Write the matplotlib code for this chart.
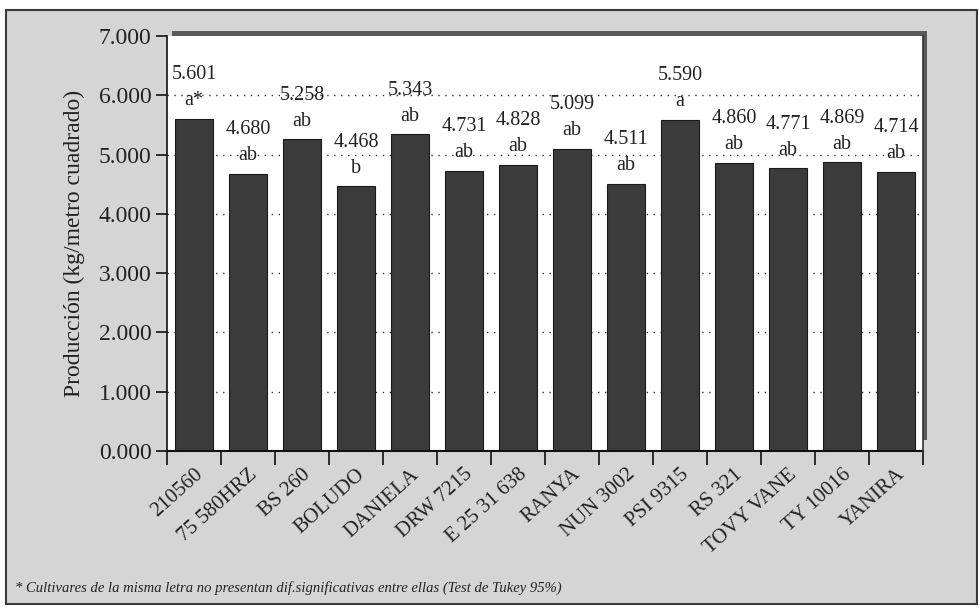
import matplotlib
matplotlib.use("Agg")
import matplotlib.pyplot as plt
from matplotlib.patches import Rectangle
import numpy as np

cultivares = ["210560", "75 580HRZ", "BS 260", "BOLUDO", "DANIELA", "DRW 7215",
              "E 25 31 638", "RANYA", "NUN 3002", "PSI 9315", "RS 321",
              "TOVY VANE", "TY 10016", "YANIRA"]
produccion = [5.601, 4.680, 5.258, 4.468, 5.343, 4.731, 4.828, 5.099, 4.511,
              5.590, 4.860, 4.771, 4.869, 4.714]
letras = ["a*", "ab", "ab", "b", "ab", "ab", "ab", "ab", "ab", "a", "ab", "ab", "ab", "ab"]
yticks = [0, 1, 2, 3, 4, 5, 6, 7]
ytick_labels = ["0.000", "1.000", "2.000", "3.000", "4.000", "5.000", "6.000", "7.000"]

plt.rcParams['font.family'] = ['Liberation Serif', 'DejaVu Serif']

W, H = 980, 608
fig = plt.figure(figsize=(W / 100, H / 100), dpi=100, facecolor="white")

def px_rect(x0, y0, x1, y1, **kw):
    # pixel coords measured from top-left
    return Rectangle((x0 / W, 1 - y1 / H), (x1 - x0) / W, (y1 - y0) / H,
                     transform=fig.transFigure, **kw)

# outer panel
fig.patches.append(px_rect(6, 10, 977, 604, facecolor="#d5d5d5", edgecolor="#3a3a3a",
                           linewidth=1.5, zorder=0))
# shadow of the plot wall
fig.patches.append(px_rect(172, 31, 927, 37, facecolor="#5a5a5a", edgecolor="none", zorder=1))
fig.patches.append(px_rect(920, 31, 927, 440, facecolor="#5a5a5a", edgecolor="none", zorder=1))

ax = fig.add_axes([167 / W, 1 - 451 / H, (923 - 167) / W, (451 - 36) / H])
ax.set_facecolor("white")
ax.set_zorder(2)

x = np.arange(len(cultivares))
ax.set_xlim(-0.5, len(cultivares) - 0.5)
ax.set_ylim(0, 7)

for g in [1, 2, 3, 4, 5, 6]:
    ax.axhline(g, color="#333333", linewidth=1.0, linestyle=(0, (1, 4)), zorder=1)

ax.bar(x, produccion, width=0.72, color="#3b3b3b", edgecolor="#1a1a1a",
       linewidth=0.8, zorder=2)

for xi, v, l in zip(x, produccion, letras):
    ax.annotate(f"{v:.3f}", (xi, v), xytext=(0, 44), textcoords="offset pixels",
                ha="center", va="center", fontsize=14.5, color="#222222", zorder=3)
    ax.annotate(l, (xi, v), xytext=(0, 18), textcoords="offset pixels",
                ha="center", va="center", fontsize=14.5, color="#222222", zorder=3)

ax.set_yticks(yticks)
ax.set_yticklabels(ytick_labels, fontsize=17, color="#222222")
ax.tick_params(axis="y", direction="out", length=8, width=1.2, color="#111111", pad=3)

ax.set_xticks(x)
ax.set_xticklabels(cultivares, fontsize=15, rotation=42, ha="right",
                   rotation_mode="anchor", color="#222222")
ax.tick_params(axis="x", which="major", length=0, pad=10)
ax.set_xticks(np.arange(-0.5, len(cultivares), 1.0), minor=True)
ax.tick_params(axis="x", which="minor", direction="out", length=10, width=1.2, color="#111111")

for s in ["top", "right"]:
    ax.spines[s].set_visible(False)
ax.spines["left"].set_linewidth(1.2)
ax.spines["bottom"].set_linewidth(1.5)
ax.spines["left"].set_color("#111111")
ax.spines["bottom"].set_color("#111111")
ax.spines["bottom"].set_bounds(-0.5, len(cultivares) - 0.5)

# right edge of the wall
ax.plot([1, 1], [0, 1], transform=ax.transAxes, color="#333333", linewidth=1.2,
        clip_on=False, zorder=4)

ax.set_ylabel("Producción (kg/metro cuadrado)", fontsize=17, color="#222222", labelpad=10)

fig.text(15 / W, 1 - 588 / H,
         "* Cultivares de la misma letra no presentan dif.significativas entre ellas (Test de Tukey 95%)",
         fontsize=10.5, style="italic", color="#222222", ha="left", va="center")

fig.savefig("out.png", dpi=100, facecolor=fig.get_facecolor())
